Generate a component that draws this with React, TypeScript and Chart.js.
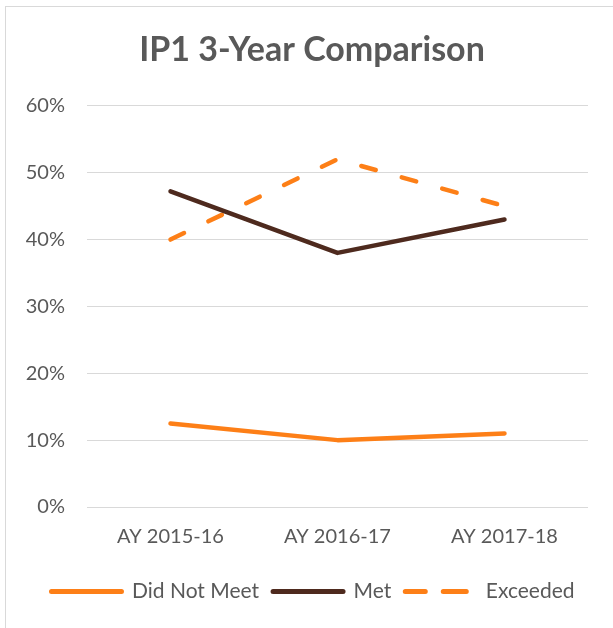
import React, { useEffect, useRef } from "react";
import { Chart, registerables } from "chart.js";

Chart.register(...registerables);

const categories = ["AY 2015-16", "AY 2016-17", "AY 2017-18"];
const didNotMeet = [12.5, 10, 11];
const met = [47.2, 38, 43];
const exceeded = [40, 52, 45];
const yTicks = [0, 10, 20, 30, 40, 50, 60];

const FONT = "Lato, 'Open Sans', sans-serif";
const TEXT = "#595959";
const ORANGE = "#FD7F17";
const BROWN = "#4E2A1E";

const shiftBoxes = {
  id: "shiftBoxes",
  afterLayout(chart: any) {
    const shift = (b: any, dx: number) => {
      if (!b) return;
      b.left += dx;
      b.right += dx;
      if (b.adjustHitBoxes) b.adjustHitBoxes();
    };
    shift(chart.legend, 19);
    shift(chart.titleBlock, 18);
  },
};

export default function App() {
  const ref = useRef<HTMLCanvasElement | null>(null);
  useEffect(() => {
    if (!ref.current) return;
    const chart = new Chart(ref.current, {
      type: "line",
      data: {
        labels: categories,
        datasets: [
          { label: "Did Not Meet", data: didNotMeet, borderColor: ORANGE, backgroundColor: ORANGE, borderWidth: 4.5, borderCapStyle: "round", borderJoinStyle: "round", pointRadius: 0, tension: 0 },
          { label: "Met", data: met, borderColor: BROWN, backgroundColor: BROWN, borderWidth: 4.5, borderCapStyle: "round", borderJoinStyle: "round", pointRadius: 0, tension: 0 },
          { label: "Exceeded", data: exceeded, borderColor: ORANGE, backgroundColor: ORANGE, borderWidth: 4.5, borderDash: [15, 27], borderCapStyle: "round", borderJoinStyle: "round", pointRadius: 0, tension: 0 },
        ],
      },
      plugins: [shiftBoxes],
      options: {
        animation: false,
        responsive: false,
        maintainAspectRatio: false,
        layout: { padding: { left: 0, right: 25, top: 0, bottom: 16 } },
        plugins: {
          title: {
            display: true,
            text: "IP1 3-Year Comparison",
            color: TEXT,
            font: { family: FONT, size: 34, weight: "bold" },
            padding: { top: 30, bottom: 35 },
          },
          legend: {
            position: "bottom",
            labels: {
              boxWidth: 70,
              boxHeight: 0,
              color: TEXT,
              font: { family: FONT, size: 21 },
              padding: 14,
              generateLabels: (c: any) => {
                const items = Chart.defaults.plugins.legend.labels.generateLabels(c);
                return items.map((it: any, i: number) => ({
                  ...it,
                  fillStyle: "rgba(0,0,0,0)",
                  lineWidth: 5,
                  lineCap: "round",
                  lineDash: i === 2 ? [20, 21] : [],
                }));
              },
            },
          },
          tooltip: { enabled: false },
        },
        scales: {
          x: {
            offset: true,
            grid: { display: false, drawTicks: false },
            border: { display: false },
            ticks: { color: TEXT, font: { family: FONT, size: 20 }, padding: 18 },
          },
          y: {
            min: 0,
            max: 60,
            afterBuildTicks: (s: any) => { s.ticks = yTicks.map((v) => ({ value: v })); },
            afterFit: (s: any) => { s.width = 87; },
            grid: { color: "#d9d9d9", lineWidth: 1, drawTicks: false },
            border: { display: false },
            ticks: { color: TEXT, font: { family: FONT, size: 20 }, padding: 22, callback: (v: any) => v + "%" },
          },
        },
      },
    });
    return () => chart.destroy();
  }, []);
  return (
    <div style={{ position: "fixed", left: 0, top: 0, width: 613, height: 628, overflow: "hidden", background: "#fff" }}>
      <div style={{ position: "absolute", left: 5, top: 6, width: 700, height: 700, border: "1px solid #d9d9d9", boxSizing: "border-box" }} />
      <canvas ref={ref} width={613} height={628} style={{ position: "absolute", left: 0, top: 0 }} />
    </div>
  );
}
